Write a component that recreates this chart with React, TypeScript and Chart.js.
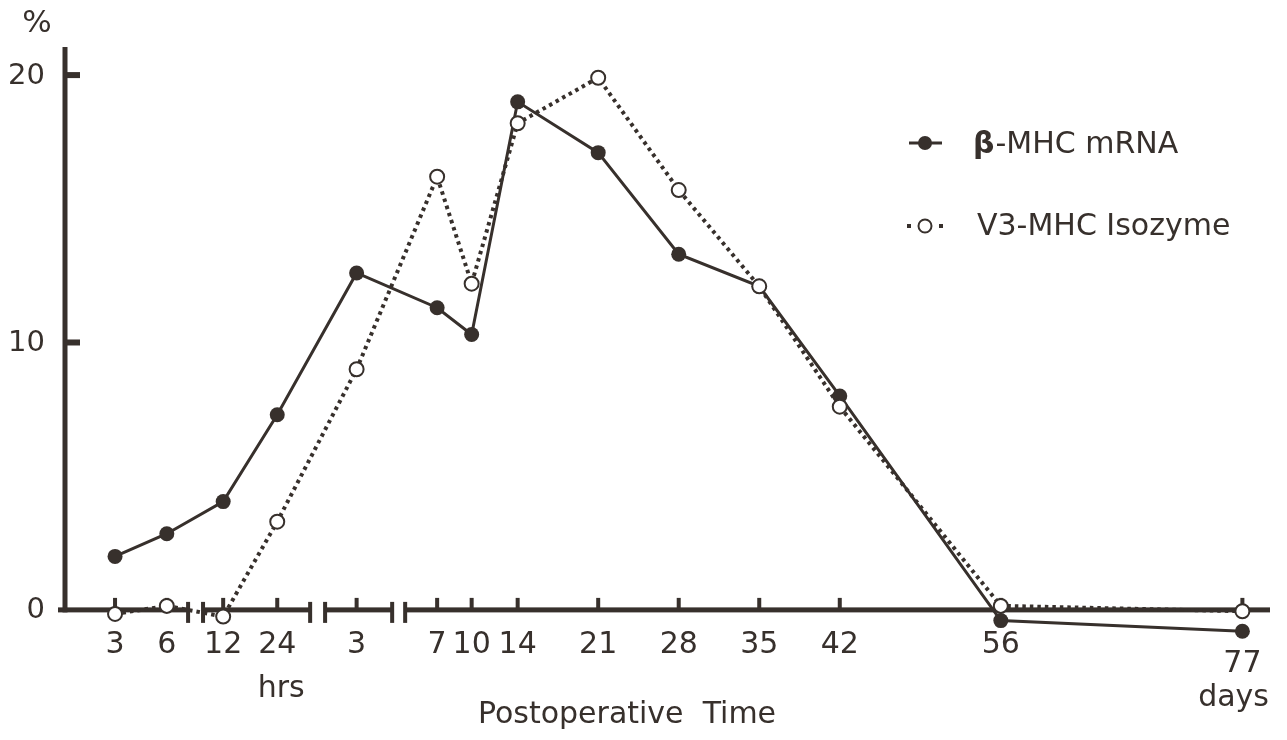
import { useEffect, useRef } from 'react';
import { Chart, registerables } from 'chart.js';

Chart.register(...registerables);

// ---- data ----
const tickLabels = ['3', '6', '12', '24', '3', '7', '10', '14', '21', '28', '35', '42', '56', '77'];
// position of each time point on the broken time axis (days segment is linear in days)
const xPositions = [-21.0, -16.5, -11.6, -6.9, 0, 7, 10, 14, 21, 28, 35, 42, 56, 77];
const betaMHCmRNA = [2.0, 2.85, 4.05, 7.3, 12.6, 11.3, 10.3, 19.0, 17.1, 13.3, 12.1, 8.0, -0.4, -0.8];
const v3MHCIsozyme = [-0.15, 0.15, -0.25, 3.3, 9.0, 16.2, 12.2, 18.2, 19.9, 15.7, 12.1, 7.6, 0.15, -0.05];
const yTickValues = [0, 10, 20];
const axisBreaks = [[-14.65, -13.35], [-4.04, -2.74], [3.09, 4.22]];
const seriesNames = ['β-MHC mRNA', 'V3-MHC Isozyme'];

const X_MIN = -25.35;
const X_MAX = 79.4;
const Y_MIN = -1.5;
const Y_MAX = 21.2;

const INK = '#37302c';
const FONT = '"DejaVu Sans", sans-serif';

export default function App() {
  const ref = useRef<HTMLCanvasElement>(null);

  useEffect(() => {
    document.body.style.margin = '0';
    const canvas = ref.current!;

    const axisPlugin = {
      id: 'brokenAxes',
      beforeDatasetsDraw(chart: any) {
        const { ctx, scales, chartArea } = chart;
        const xs = scales.x;
        const ys = scales.y;
        const y0 = ys.getPixelForValue(0);
        ctx.save();
        ctx.fillStyle = INK;
        // x axis segments
        const segs: number[][] = [];
        let start = chartArea.left - 7;
        for (const [a, b] of axisBreaks) {
          segs.push([start, xs.getPixelForValue(a)]);
          start = xs.getPixelForValue(b);
        }
        segs.push([start, chartArea.right]);
        segs.forEach(([a, b], i) => {
          ctx.fillRect(a, y0 - 2.5, b - a, 5);
          if (i > 0) ctx.fillRect(a - 2, y0 - 8, 4, 21);
          if (i < segs.length - 1) ctx.fillRect(b - 2, y0 - 8, 4, 21);
        });
        // x ticks (pointing up)
        xPositions.forEach((v) => {
          const px = xs.getPixelForValue(v);
          ctx.fillRect(px - 2, y0 - 12, 4, 12);
        });
        // y axis
        const top = ys.getPixelForValue(21.05);
        ctx.fillRect(chartArea.left - 2.5, top, 5, y0 + 2.5 - top);
        yTickValues.forEach((v) => {
          if (v === 0) return;
          const py = ys.getPixelForValue(v);
          ctx.fillRect(chartArea.left, py - 3, 15, 6);
        });
        ctx.restore();
      },
      afterDraw(chart: any) {
        const { ctx, scales, chartArea } = chart;
        const xs = scales.x;
        const ys = scales.y;
        ctx.save();
        ctx.fillStyle = INK;
        ctx.font = `29px ${FONT}`;
        // y tick labels
        ctx.textAlign = 'right';
        ctx.textBaseline = 'middle';
        yTickValues.forEach((v) => {
          ctx.fillText(String(v), chartArea.left - 20, ys.getPixelForValue(v) + 1);
        });
        // % unit
        ctx.textAlign = 'center';
        ctx.textBaseline = 'alphabetic';
        ctx.font = `31px ${FONT}`;
        ctx.fillText('%', 37, 32);
        // x tick labels
        ctx.font = `30px ${FONT}`;
        ctx.textBaseline = 'middle';
        tickLabels.forEach((lab, i) => {
          const px = xs.getPixelForValue(xPositions[i]);
          const py = i === tickLabels.length - 1 ? 664 : 645;
          ctx.fillText(lab, px, py);
        });
        ctx.textBaseline = 'alphabetic';
        ctx.fillText('hrs', xs.getPixelForValue(xPositions[3]) + 4, 697);
        ctx.textAlign = 'right';
        ctx.fillText('days', chartArea.right - 1, 706);
        ctx.textAlign = 'center';
        ctx.fillText('Postoperative  Time', 627, 723);

        // legend
        const lx = 925;
        const ly1 = 143;
        const ly2 = 226;
        ctx.strokeStyle = INK;
        ctx.lineWidth = 3;
        ctx.beginPath();
        ctx.moveTo(lx - 16, ly1);
        ctx.lineTo(lx + 17, ly1);
        ctx.stroke();
        ctx.beginPath();
        ctx.arc(lx, ly1, 7, 0, Math.PI * 2);
        ctx.fill();
        ctx.fillRect(lx - 18, ly2 - 2, 4, 4);
        ctx.fillRect(lx + 14, ly2 - 2, 4, 4);
        ctx.beginPath();
        ctx.arc(lx, ly2, 6.5, 0, Math.PI * 2);
        ctx.fillStyle = '#ffffff';
        ctx.fill();
        ctx.lineWidth = 2;
        ctx.stroke();
        ctx.fillStyle = INK;
        ctx.textAlign = 'left';
        ctx.font = `bold 30px ${FONT}`;
        const beta = seriesNames[0].slice(0, 1);
        ctx.fillText(beta, 973, 153);
        const bw = ctx.measureText(beta).width;
        ctx.font = `30px ${FONT}`;
        ctx.fillText(seriesNames[0].slice(1), 973 + bw + 1, 153);
        ctx.fillText(seriesNames[1], 977, 235);
        ctx.restore();
      },
    };

    const chart = new Chart(canvas, {
      type: 'line',
      data: {
        datasets: [
          {
            label: seriesNames[1],
            data: xPositions.map((x, i) => ({ x, y: v3MHCIsozyme[i] })),
            borderColor: INK,
            borderWidth: 4,
            borderDash: [3.5, 4],
            borderCapStyle: 'butt',
            pointRadius: 7,
            pointBorderWidth: 2,
            pointBackgroundColor: '#ffffff',
            pointBorderColor: INK,
            tension: 0,
            clip: false,
          },
          {
            label: seriesNames[0],
            data: xPositions.map((x, i) => ({ x, y: betaMHCmRNA[i] })),
            borderColor: INK,
            borderWidth: 3,
            pointRadius: 7.5,
            pointBorderWidth: 0,
            pointBackgroundColor: INK,
            pointBorderColor: INK,
            tension: 0,
            clip: false,
          },
        ],
      },
      options: {
        responsive: false,
        maintainAspectRatio: false,
        animation: false,
        layout: { padding: { left: 65, right: 17, top: 43, bottom: 90 } },
        scales: {
          x: { type: 'linear', min: X_MIN, max: X_MAX, display: false },
          y: { type: 'linear', min: Y_MIN, max: Y_MAX, display: false },
        },
        plugins: {
          legend: { display: false },
          tooltip: { enabled: false },
        },
      },
      plugins: [axisPlugin],
    } as any);

    return () => chart.destroy();
  }, []);

  return (
    <canvas
      ref={ref}
      width={1287}
      height={740}
      style={{ display: 'block', width: '1287px', height: '740px' }}
    />
  );
}
